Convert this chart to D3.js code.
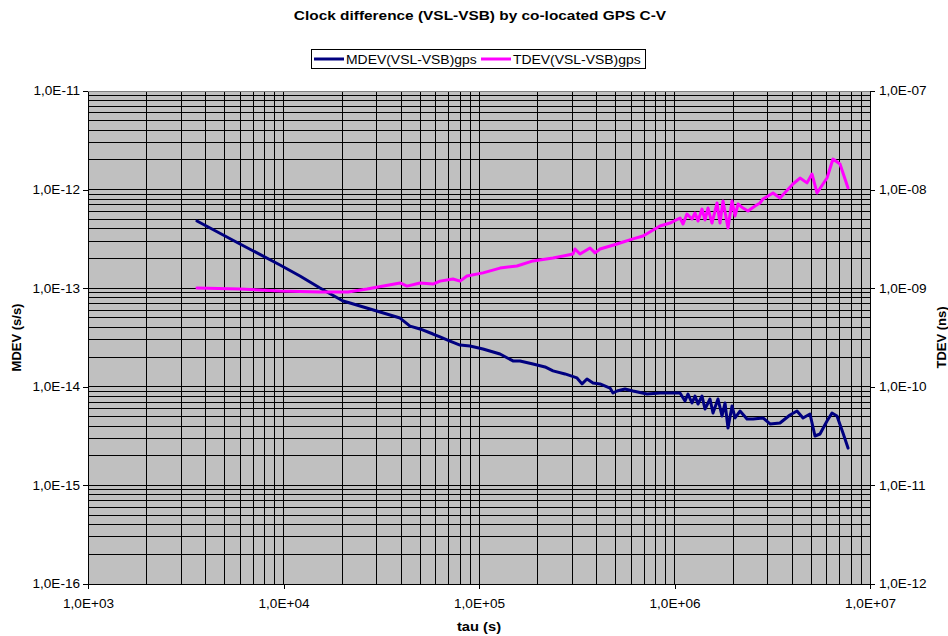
<!DOCTYPE html>
<html>
<head>
<meta charset="utf-8">
<script src="https://cdn.jsdelivr.net/npm/d3@7"></script>
<style>
  body { margin: 0; background: #fff; }
  svg { display: block; font-family: "Liberation Sans", Arial, sans-serif; }
</style>
</head>
<body>
<svg id="chart" width="948" height="636"></svg>
<script>
const title = "Clock difference (VSL-VSB) by co-located GPS C-V";
const seriesNames = ["MDEV(VSL-VSB)gps", "TDEV(VSL-VSB)gps"];
const xTickValues = [1e3, 1e4, 1e5, 1e6, 1e7];
const leftTickValues = [1e-16, 1e-15, 1e-14, 1e-13, 1e-12, 1e-11];
const rightTickValues = [1e-12, 1e-11, 1e-10, 1e-9, 1e-8, 1e-7];

// MDEV (s/s) vs tau (s)
const mdevTau = [3.61e3, 5.99e3, 9.60e3, 1.214e4, 1.537e4, 2.015e4, 2.189e4, 2.771e4, 3.945e4, 4.437e4,
  4.992e4, 5.818e4, 6.318e4, 7.107e4, 7.995e4, 8.995e4, 1.048e5, 1.281e5, 1.492e5, 1.621e5,
  1.889e5, 2.176e5, 2.391e5, 2.754e5, 3.171e5, 3.365e5, 3.567e5, 3.830e5, 4.159e5, 4.679e5,
  4.845e5, 5.080e5, 5.583e5, 6.134e5, 7.233e5, 8.428e5, 1.067e6, 1.132e6, 1.172e6, 1.229e6,
  1.273e6, 1.319e6, 1.383e6, 1.432e6, 1.519e6, 1.574e6, 1.669e6, 1.750e6, 1.813e6, 1.878e6,
  1.969e6, 2.040e6, 2.163e6, 2.349e6, 2.521e6, 2.836e6, 3.080e6, 3.464e6, 3.897e6, 4.232e6,
  4.543e6, 4.933e6, 5.232e6, 5.548e6, 6.027e6, 6.391e6, 6.779e6, 7.275e6, 7.720e6];
const mdevVal = [4.80e-13, 2.81e-13, 1.72e-13, 1.33e-13, 1.005e-13, 7.42e-14, 7.08e-14, 6.15e-14, 4.98e-14, 4.13e-14,
  3.86e-14, 3.43e-14, 3.20e-14, 2.91e-14, 2.65e-14, 2.59e-14, 2.42e-14, 2.15e-14, 1.83e-14, 1.83e-14,
  1.70e-14, 1.59e-14, 1.45e-14, 1.35e-14, 1.23e-14, 1.07e-14, 1.20e-14, 1.09e-14, 1.07e-14, 9.72e-15,
  8.65e-15, 9.06e-15, 9.50e-15, 9.06e-15, 8.45e-15, 8.65e-15, 8.65e-15, 7.18e-15, 8.45e-15, 6.85e-15,
  8.06e-15, 6.69e-15, 8.06e-15, 5.95e-15, 7.52e-15, 5.42e-15, 7.52e-15, 5.06e-15, 6.85e-15, 3.82e-15,
  6.39e-15, 4.83e-15, 5.68e-15, 4.71e-15, 4.71e-15, 4.83e-15, 4.20e-15, 4.29e-15, 5.18e-15, 5.68e-15,
  4.83e-15, 5.30e-15, 3.17e-15, 3.32e-15, 4.50e-15, 5.42e-15, 5.06e-15, 3.40e-15, 2.39e-15];

// TDEV (ns) vs tau (s)
const tdevTau = [3.61e3, 5.99e3, 9.60e3, 1.537e4, 2.137e4, 2.674e4, 3.945e4, 4.282e4, 4.992e4, 5.818e4,
  6.318e4, 7.362e4, 7.995e4, 8.681e4, 1.048e5, 1.281e5, 1.564e5, 1.889e5, 2.391e5, 3.026e5,
  3.097e5, 3.285e5, 3.697e5, 3.922e5, 4.159e5, 5.080e5, 5.263e5, 6.134e5, 6.903e5, 8.428e5,
  9.484e5, 1.067e6, 1.106e6, 1.158e6, 1.229e6, 1.273e6, 1.319e6, 1.383e6, 1.432e6, 1.484e6,
  1.555e6, 1.650e6, 1.709e6, 1.771e6, 1.878e6, 1.969e6, 2.040e6, 2.113e6, 2.241e6, 2.377e6,
  2.581e6, 2.737e6, 2.836e6, 3.191e6, 3.464e6, 4.037e6, 4.385e6, 4.762e6, 5.050e6, 5.356e6,
  6.027e6, 6.466e6, 7.022e6, 7.720e6];
const tdevVal = [1.005e-9, 9.81e-10, 9.37e-10, 9.15e-10, 9.15e-10, 9.81e-10, 1.13e-9, 1.05e-9, 1.13e-9, 1.10e-9,
  1.18e-9, 1.24e-9, 1.18e-9, 1.33e-9, 1.43e-9, 1.60e-9, 1.68e-9, 1.89e-9, 2.02e-9, 2.22e-9,
  2.50e-9, 2.22e-9, 2.56e-9, 2.28e-9, 2.50e-9, 2.81e-9, 2.87e-9, 3.16e-9, 3.38e-9, 4.27e-9,
  4.58e-9, 5.15e-9, 4.48e-9, 5.65e-9, 5.03e-9, 5.79e-9, 4.80e-9, 6.35e-9, 4.92e-9, 6.50e-9,
  4.58e-9, 7.31e-9, 4.58e-9, 7.66e-9, 4.08e-9, 7.66e-9, 5.40e-9, 7.14e-9, 6.50e-9, 6.07e-9,
  6.82e-9, 7.31e-9, 8.03e-9, 9.24e-9, 8.22e-9, 1.14e-8, 1.31e-8, 1.17e-8, 1.44e-8, 9.24e-9,
  1.31e-8, 2.04e-8, 1.82e-8, 1.04e-8];

const svg = d3.select("#chart");
const margin = { top: 91, right: 78, bottom: 52, left: 88 };
const width = 948, height = 636;
const plotW = width - margin.left - margin.right;
const plotH = height - margin.top - margin.bottom;
const STRETCH = 1.13; // the reference text is a little wide

const x = d3.scaleLog().domain([1e3, 1e7]).range([margin.left, margin.left + plotW]);
const yL = d3.scaleLog().domain([1e-16, 1e-11]).range([margin.top + plotH, margin.top]);
const yR = d3.scaleLog().domain([1e-12, 1e-7]).range([margin.top + plotH, margin.top]);

const fmtE = (v) => {
  const e = Math.round(Math.log10(v));
  const s = e < 0 ? "-" : "+";
  return `1,0E${s}${String(Math.abs(e)).padStart(2, "0")}`;
};

const minorVals = (lo, hi) => {
  const out = [];
  for (let e = Math.round(Math.log10(lo)); e < Math.round(Math.log10(hi)); e++) {
    for (let k = 1; k <= 9; k++) out.push(k * Math.pow(10, e));
  }
  out.push(hi);
  return out;
};

const widen = (sel, k) => {
  sel.each(function () {
    const len = this.getComputedTextLength();
    d3.select(this).attr("textLength", len * k).attr("lengthAdjust", "spacingAndGlyphs");
  });
};

svg.append("rect")
  .attr("x", margin.left).attr("y", margin.top)
  .attr("width", plotW).attr("height", plotH)
  .attr("fill", "#c0c0c0");

const grid = svg.append("g").attr("shape-rendering", "crispEdges").attr("stroke", "#000").attr("stroke-width", 1);
grid.selectAll(".gx").data(minorVals(1e3, 1e7)).join("line")
  .attr("class", "gx")
  .attr("x1", (d) => x(d)).attr("x2", (d) => x(d))
  .attr("y1", margin.top).attr("y2", margin.top + plotH);
grid.selectAll(".gy").data(minorVals(1e-16, 1e-11)).join("line")
  .attr("class", "gy")
  .attr("x1", margin.left).attr("x2", margin.left + plotW)
  .attr("y1", (d) => yL(d)).attr("y2", (d) => yL(d));

svg.append("rect")
  .attr("x", margin.left).attr("y", margin.top)
  .attr("width", plotW).attr("height", plotH)
  .attr("fill", "none").attr("stroke", "#808080").attr("shape-rendering", "crispEdges");

const styleAxis = (sel) => {
  sel.attr("font-family", null).attr("font-size", null);
  sel.selectAll("path, line").attr("stroke", "#000");
  sel.selectAll("text").attr("fill", "#000").style("font-size", "12px").call(widen, STRETCH);
};

svg.append("g")
  .attr("transform", `translate(0,${margin.top + plotH})`)
  .attr("shape-rendering", "crispEdges")
  .call(d3.axisBottom(x).tickValues(xTickValues).tickFormat(fmtE).tickSize(5).tickPadding(10).tickSizeOuter(0))
  .call(styleAxis);

svg.append("g")
  .attr("transform", `translate(${margin.left},0)`)
  .attr("shape-rendering", "crispEdges")
  .call(d3.axisLeft(yL).tickValues(leftTickValues).tickFormat(fmtE).tickSize(5).tickPadding(3).tickSizeOuter(0))
  .call(styleAxis);

svg.append("g")
  .attr("transform", `translate(${margin.left + plotW},0)`)
  .attr("shape-rendering", "crispEdges")
  .call(d3.axisRight(yR).tickValues(rightTickValues).tickFormat(fmtE).tickSize(5).tickPadding(4).tickSizeOuter(0))
  .call(styleAxis);

const mdev = mdevTau.map((t, i) => ({ t, v: mdevVal[i] }));
const tdev = tdevTau.map((t, i) => ({ t, v: tdevVal[i] }));

svg.append("path")
  .datum(mdev)
  .attr("fill", "none").attr("stroke", "#000080").attr("stroke-width", 3)
  .attr("stroke-linejoin", "round").attr("stroke-linecap", "round")
  .attr("d", d3.line().x((d) => x(d.t)).y((d) => yL(d.v)));

svg.append("path")
  .datum(tdev)
  .attr("fill", "none").attr("stroke", "#ff00ff").attr("stroke-width", 3)
  .attr("stroke-linejoin", "round").attr("stroke-linecap", "round")
  .attr("d", d3.line().x((d) => x(d.t)).y((d) => yR(d.v)));

svg.append("text")
  .attr("x", 480).attr("y", 20)
  .attr("text-anchor", "middle").attr("font-weight", "bold").attr("font-size", 13)
  .text(title)
  .call(widen, 372 / 314);

svg.append("text")
  .attr("x", 479).attr("y", 631)
  .attr("text-anchor", "middle").attr("font-weight", "bold").attr("font-size", 13)
  .text("tau (s)")
  .call(widen, STRETCH);

svg.append("text")
  .attr("transform", `translate(21,${margin.top + plotH / 2}) rotate(-90)`)
  .attr("text-anchor", "middle").attr("font-weight", "bold").attr("font-size", 13)
  .text("MDEV (s/s)");

svg.append("text")
  .attr("transform", `translate(946,${margin.top + plotH / 2}) rotate(-90)`)
  .attr("text-anchor", "middle").attr("font-weight", "bold").attr("font-size", 13)
  .text("TDEV (ns)");

// legend
const lg = svg.append("g");
lg.append("rect")
  .attr("x", 311.5).attr("y", 49.5).attr("width", 334).attr("height", 19)
  .attr("fill", "#fff").attr("stroke", "#000");
const legendItems = [
  { name: seriesNames[0], color: "#000080", x0: 314 },
  { name: seriesNames[1], color: "#ff00ff", x0: 481 }
];
legendItems.forEach((it) => {
  lg.append("line")
    .attr("x1", it.x0).attr("x2", it.x0 + 30).attr("y1", 59).attr("y2", 59)
    .attr("stroke", it.color).attr("stroke-width", 3);
  lg.append("text")
    .attr("x", it.x0 + 32).attr("y", 63.5).attr("font-size", 12)
    .text(it.name)
    .call(widen, 1.16);
});
</script>
</body>
</html>
